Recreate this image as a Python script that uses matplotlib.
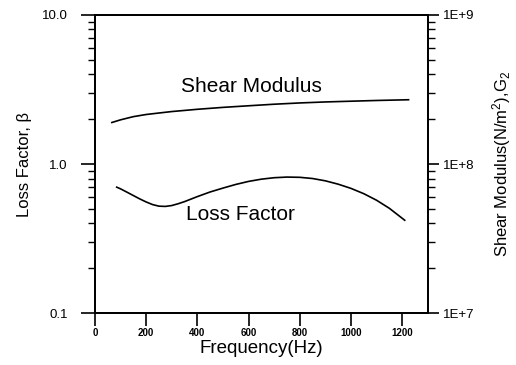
import matplotlib
matplotlib.use("Agg")
import matplotlib.pyplot as plt
from matplotlib.ticker import FixedLocator, FuncFormatter, LogLocator, NullFormatter
import numpy as np

plt.rcParams['font.family'] = ['Liberation Sans', 'DejaVu Sans']
plt.rcParams['mathtext.default'] = 'regular'

# Data
shear_freq = [66, 100, 150, 200, 250, 300, 400, 500, 600, 700, 800, 900, 1000, 1100, 1225]
shear_modulus = [1.9e8, 1.98e8, 2.08e8, 2.15e8, 2.2e8, 2.25e8, 2.33e8, 2.4e8, 2.46e8,
                 2.52e8, 2.57e8, 2.61e8, 2.64e8, 2.67e8, 2.7e8]
loss_freq = [85, 100, 125, 150, 175, 200, 225, 250, 275, 300, 325, 350, 400, 450, 500,
             550, 600, 650, 700, 750, 800, 850, 900, 950, 1000, 1050, 1100, 1150, 1210]
loss_factor = [0.70, 0.682, 0.648, 0.615, 0.584, 0.557, 0.535, 0.522, 0.52, 0.527, 0.542,
               0.56, 0.605, 0.65, 0.69, 0.73, 0.765, 0.792, 0.81, 0.818, 0.815, 0.80,
               0.772, 0.733, 0.687, 0.633, 0.572, 0.505, 0.42]

x_ticks = [0, 200, 400, 600, 800, 1000, 1200]
left_ticks = [0.1, 1.0, 10.0]
left_labels = ['0.1', '1.0', '10.0']
right_ticks = [1e7, 1e8, 1e9]
right_labels = ['1E+7', '1E+8', '1E+9']


def nearest_label(ticks, labels):
    def f(v, p):
        i = int(np.argmin([abs(np.log10(t) - np.log10(v)) for t in ticks]))
        return labels[i]
    return FuncFormatter(f)


fig = plt.figure(figsize=(5.16, 3.65), dpi=100)
ax = fig.add_axes([0.184, 0.142, 0.645, 0.817])
ax2 = ax.twinx()

ax.plot(loss_freq, loss_factor, color='black', lw=1.2, solid_joinstyle='round')
ax2.plot(shear_freq, shear_modulus, color='black', lw=1.2, solid_joinstyle='round')

ax.set_xlim(0, 1300)
ax.set_yscale('log')
ax.set_ylim(0.1, 10)
ax2.set_yscale('log')
ax2.set_ylim(1e7, 1e9)

for a in (ax, ax2):
    for s in a.spines.values():
        s.set_linewidth(1.3)

ax.xaxis.set_major_locator(FixedLocator(x_ticks))
ax.set_xticklabels([str(t) for t in x_ticks], fontsize=7, fontweight='bold')
ax.tick_params(axis='x', direction='out', length=9, width=1.2, pad=1.5, top=False)

ax.yaxis.set_major_locator(FixedLocator(left_ticks))
ax.yaxis.set_major_formatter(nearest_label(left_ticks, left_labels))
ax.yaxis.set_minor_locator(LogLocator(base=10, subs=np.arange(2, 10)))
ax.yaxis.set_minor_formatter(NullFormatter())
ax.tick_params(axis='y', which='major', direction='out', length=10, width=1.2, pad=9.5, labelsize=9.5)
ax.tick_params(axis='y', which='minor', direction='out', length=5, width=1.0)

ax2.yaxis.set_major_locator(FixedLocator(right_ticks))
ax2.yaxis.set_major_formatter(nearest_label(right_ticks, right_labels))
ax2.yaxis.set_minor_locator(LogLocator(base=10, subs=np.arange(2, 10)))
ax2.yaxis.set_minor_formatter(NullFormatter())
ax2.tick_params(axis='y', which='major', direction='out', length=8, width=1.2, pad=3.2, labelsize=9.5)
ax2.tick_params(axis='y', which='minor', direction='out', length=5, width=1.0)

ax.set_xlabel('Frequency(Hz)', fontsize=13.5, labelpad=1.5)
ax.set_ylabel('Loss Factor, β', fontsize=12, labelpad=7)
ax2.set_ylabel(r'Shear Modulus(N/m$^{2}$),G$_{2}$', fontsize=12, labelpad=11)

ax.text(613, 3.3, 'Shear Modulus', fontsize=15, ha='center', va='center')
ax.text(570, 0.46, 'Loss Factor', fontsize=15, ha='center', va='center')

fig.savefig('out.png', dpi=100)
